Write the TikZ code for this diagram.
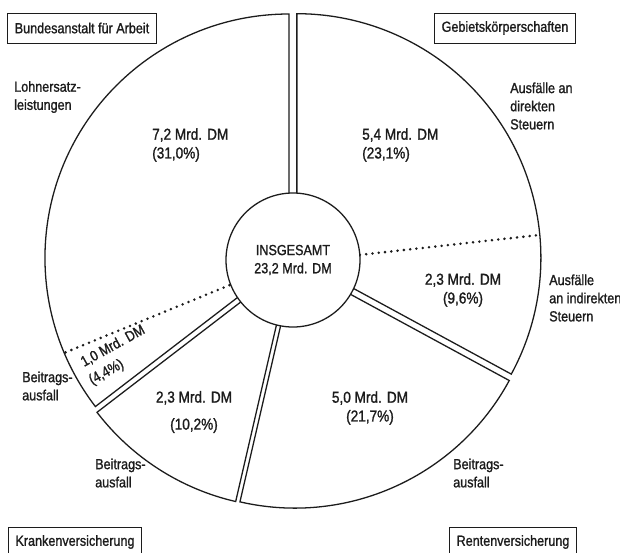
\documentclass[tikz,border=0pt]{standalone}
\usepackage{fontspec}
\setmainfont{Liberation Sans}[FakeStretch=0.86, FakeBold=1.2]
\usepackage{tikz}
\usetikzlibrary{positioning}
\definecolor{tinte}{RGB}{28,28,28}
\tikzset{
  sektor/.style={draw=tinte, fill=white, line width=1.1pt, line join=miter},
  punkte/.style={draw=tinte, line width=2.4pt, line cap=round, dash pattern=on 0pt off 5.4pt},
  kasten/.style={draw=tinte, line width=0.8pt, minimum height=0.9cm, inner xsep=6pt, text=tinte},
  etikett/.style={text=tinte, align=left, inner sep=0pt},
  wert/.style={text=tinte, align=center, inner sep=0pt, font=\fontsize{13.5}{16}\selectfont},
  every node/.style={font=\fontsize{12.5}{15.5}\selectfont}
}

\begin{document}
\begin{tikzpicture}[x=0.03cm, y=0.03cm]
\useasboundingbox (-293,-292) rectangle (327,260);
% exploded ring: one sector per institution
\foreach \a/\b in {-28.5/90, -103/-28.5, -142.5/-103, 90/217.5}
  \draw[sektor, shift={({(\a+\b)/2}:4.5)}] (\a:40) -- (\a:244) arc[start angle=\a, end angle=\b, radius=244] -- (\b:40) -- cycle;
\draw[punkte] (48,3) -- (246,25);
\draw[punkte] (-46,-18) -- (-229,-93);
\node[circle, draw=tinte, fill=white, line width=1.1pt, minimum size=4.02cm, align=center, text=tinte] (gesamt) at (0,0) {INSGESAMT\\23,2 Mrd. DM};
% institutions
\node[kasten] (bundes) at (-211,232) {Bundesanstalt für Arbeit};
\node[kasten] (gebiet) at (212,232) {Gebietskörperschaften};
\node[kasten] (kranken) at (-218,-282) {Krankenversicherung};
\node[kasten] (renten) at (220,-282) {Rentenversicherung};
% values and captions
\node[etikett, anchor=west] (lohn) at (-279,163) {Lohnersatz-\\leistungen};
\node[wert, align=left, anchor=west] (wertba) at (-141,115) {7,2 Mrd. DM\\(31,0\%)};
\node[wert, align=left, anchor=west] (wertgd) at (69,115) {5,4 Mrd. DM\\(23,1\%)};
\node[etikett, anchor=west] (direkt) at (217,154) {Ausfälle an\\direkten\\Steuern};
\node[wert] (wertgi) at (170,-30) {2,3 Mrd. DM\\(9,6\%)};
\node[etikett, anchor=west] (indirekt) at (256,-38) {Ausfälle\\an indirekten\\Steuern};
\node[wert] (wertrv) at (77,-148) {5,0 Mrd. DM\\(21,7\%)};
\node[etikett, anchor=west] (beitragrv) at (160,-213) {Beitrags-\\ausfall};
\node[wert] (wertkv) at (-99,-152) {2,3 Mrd. DM\\[1ex](10,2\%)};
\node[etikett, anchor=west] (beitragkv) at (-198,-213) {Beitrags-\\ausfall};
\node[etikett, anchor=west] (beitragba) at (-271,-126) {Beitrags-\\ausfall};
\node[etikett, rotate=29, anchor=base west] (wertbb) at (-209,-107) {1,0 Mrd. DM};
\node[etikett, rotate=29, anchor=base west] (prozbb) at (-201,-125) {(4,4\%)};
\end{tikzpicture}
\end{document}
